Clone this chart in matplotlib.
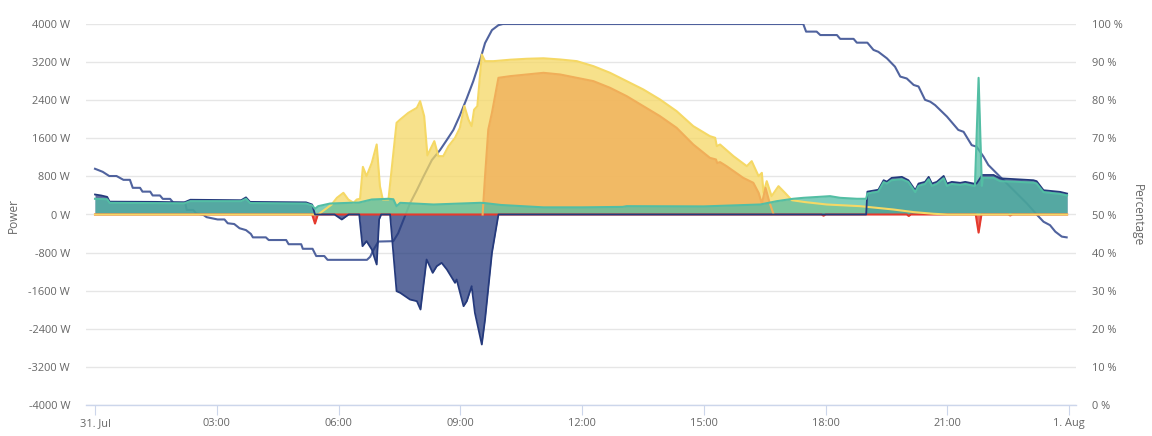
import matplotlib.pyplot as plt

plt.rcParams['font.family'] = ['Open Sans', 'DejaVu Sans']

# time in hours from 31. Jul 00:00
x_ticks = [0, 3, 6, 9, 12, 15, 18, 21, 24]
x_labels = ['31. Jul', '03:00', '06:00', '09:00', '12:00', '15:00', '18:00', '21:00', '1. Aug']
w_ticks = [-4000, -3200, -2400, -1600, -800, 0, 800, 1600, 2400, 3200, 4000]
pct_ticks = [0, 10, 20, 30, 40, 50, 60, 70, 80, 90, 100]

# PV production (W)
pv_h = [0, 5.5, 5.83, 5.96, 6.12, 6.24, 6.37, 6.45, 6.53, 6.60, 6.69, 6.82, 6.94, 7.02, 7.09,
        7.23, 7.43, 7.52, 7.72, 7.93, 8.01, 8.11, 8.19, 8.26, 8.36, 8.46, 8.58, 8.71, 8.87,
        8.99, 9.10, 9.20, 9.28, 9.34, 9.42, 9.53, 9.61, 9.82, 10.23, 10.64, 11.05, 11.46,
        11.87, 12.28, 12.69, 13.10, 13.51, 13.92, 14.33, 14.74, 15.15, 15.28, 15.32, 15.40,
        15.73, 16.06, 16.18, 16.35, 16.43, 16.47, 16.55, 16.67, 16.84, 17.00, 17.17, 17.5,
        18.03, 18.85, 19.26, 19.67, 20.17, 20.66, 21.0, 23.95]
pv_w = [0, 0, 210, 350, 455, 315, 245, 315, 330, 1000, 805, 1085, 1470, 595, 315,
        315, 1925, 1995, 2135, 2240, 2380, 2065, 1240, 1365, 1540, 1225, 1225, 1435, 1610,
        1820, 2280, 1995, 1855, 2200, 2275, 3360, 3220, 3220, 3250, 3270, 3280, 3255,
        3220, 3115, 2975, 2800, 2625, 2415, 2170, 1855, 1645, 1610, 1435, 1470,
        1225, 1015, 1120, 805, 875, 455, 700, 385, 595, 455, 300, 260,
        210, 175, 140, 105, 50, 15, 0, 0]

# grid feed-in (W)
feed_h = [9.55, 9.61, 9.69, 9.78, 9.94, 10.23, 10.64, 11.05, 11.46, 11.87, 12.28, 12.69,
          13.10, 13.51, 13.92, 14.33, 14.74, 15.15, 15.30, 15.33, 15.40, 15.56, 15.97, 16.22,
          16.35, 16.43, 16.52, 16.62, 16.72]
feed_w = [0, 805, 1785, 2135, 2870, 2905, 2940, 2975, 2940, 2870, 2800, 2660,
          2485, 2275, 2065, 1820, 1470, 1190, 1155, 1080, 1100, 1015, 770, 665,
          455, 230, 560, 250, 0]

# battery power (W), positive = discharge
bat_h = [0, 0.15, 0.3, 0.36, 1.5, 2.2, 2.35, 3.6, 3.72, 3.82, 5.2, 5.35, 5.42, 5.9, 6.08,
         6.25, 6.51, 6.59, 6.69, 6.82, 6.94, 7.0, 7.05, 7.27, 7.43, 7.52, 7.76, 7.93, 8.02,
         8.17, 8.32, 8.42, 8.54, 8.67, 8.87, 8.91, 9.08, 9.16, 9.28, 9.36, 9.53, 9.61, 9.78,
         9.94, 19.0, 19.03, 19.30, 19.43, 19.51, 19.63, 19.88, 20.04, 20.21, 20.29, 20.45,
         20.54, 20.62, 20.74, 20.91, 20.99, 21.11, 21.32, 21.44, 21.65, 21.72, 21.86, 22.14,
         22.30, 23.12, 23.20, 23.37, 23.78, 23.95]
bat_w = [420, 400, 370, 270, 265, 255, 310, 300, 360, 265, 255, 210, 0, 0, -105,
         0, 0, -665, -560, -735, -1050, -105, 0, 0, -1610, -1645, -1785, -1820, -1995,
         -945, -1225, -1085, -1015, -1155, -1435, -1365, -1925, -1820, -1505, -2065, -2730, -2205, -805,
         0, 0, 480, 520, 720, 690, 770, 790, 720, 510, 650, 685,
         790, 650, 685, 810, 650, 685, 665, 685, 650, 650, 830, 830,
         760, 720, 700, 510, 475, 440]

# house consumption (W)
house_h = [0, 0.3, 0.36, 2.2, 2.35, 3.6, 3.72, 3.82, 5.2, 5.35, 5.42, 5.5, 5.79, 6.28, 6.5,
           6.82, 7.23, 7.35, 7.43, 7.52, 8.34, 9.49, 9.6, 10.0, 11.05, 12.0, 13.0, 13.10,
           15.0, 16.39, 16.8, 17.2, 17.45, 18.11, 18.36, 18.77, 19.0, 19.03, 19.30, 19.43,
           19.51, 19.63, 19.88, 20.04, 20.21, 20.29, 20.45, 20.54, 20.62, 20.74, 20.91, 20.99,
           21.11, 21.32, 21.44, 21.65, 21.68, 21.77, 21.85, 21.88, 22.14, 22.30, 23.12, 23.20,
           23.37, 23.78, 23.95]
house_w = [330, 320, 245, 235, 280, 280, 330, 240, 230, 190, 120, 175, 230, 245, 250,
           315, 330, 320, 175, 245, 210, 245, 240, 200, 150, 150, 160, 175,
           170, 210, 280, 330, 350, 385, 350, 330, 330, 440, 480, 680,
           650, 720, 740, 680, 470, 600, 640, 740, 600, 640, 760, 600,
           640, 620, 640, 600, 600, 2870, 600, 770, 770, 700, 670, 650,
           470, 430, 400]

# grid import (W), negative
grid_h = [0, 5.35, 5.42, 5.49, 17.9, 17.95, 18.0, 20.0, 20.05, 20.1, 21.70, 21.77, 21.84,
          22.5, 22.55, 22.6, 23.95]
grid_w = [0, 0, -190, 0, 0, -25, 0, 0, -30, 0, 0, -380, 0, 0, -20, 0, 0]

# battery state of charge (%)
soc_h = [0, 0.19, 0.35, 0.53, 0.70, 0.86, 0.93, 1.11, 1.17, 1.36, 1.42, 1.60, 1.67, 1.85,
         1.93, 2.22, 2.26, 2.42, 2.49, 2.67, 2.75, 3.02, 3.19, 3.27, 3.43, 3.56, 3.72, 3.84,
         3.89, 4.21, 4.28, 4.71, 4.77, 5.08, 5.12, 5.36, 5.45, 5.65, 5.73, 6.70, 6.78, 6.86,
         6.98, 7.35, 7.47, 7.60, 7.76, 7.93, 8.09, 8.30, 8.50, 8.67, 8.83, 8.99, 9.16, 9.32,
         9.49, 9.61, 9.78, 9.94, 10.05, 17.45, 17.52, 17.78, 17.87, 18.28, 18.36, 18.69,
         18.77, 19.03, 19.18, 19.30, 19.51, 19.71, 19.84, 20.00, 20.17, 20.29, 20.45, 20.58,
         20.70, 20.99, 21.27, 21.40, 21.60, 21.72, 21.89, 22.01, 22.30, 22.63, 22.96, 23.21,
         23.37, 23.53, 23.66, 23.82, 23.94]
soc_pct = [62.0, 61.2, 60.1, 60.1, 59.1, 59.1, 57.0, 57.0, 56.0, 56.0, 55.0, 55.0, 54.1, 54.1,
           53.1, 53.1, 51.2, 51.2, 50.3, 49.9, 49.3, 48.7, 48.7, 47.7, 47.5, 46.4, 45.9, 44.9,
           44.0, 44.0, 43.3, 43.3, 42.2, 42.2, 41.0, 41.0, 39.1, 39.1, 38.1, 38.1, 38.9, 40.7,
           42.9, 43.0, 45.1, 48.6, 52.9, 56.4, 59.9, 64.3, 66.9, 69.6, 72.2, 76.0, 80.5, 85.0,
           90.6, 95.0, 98.4, 99.7, 100, 100, 98.0, 98.0, 97.1, 97.1, 96.1, 96.1,
           95.1, 95.1, 93.2, 92.7, 91.0, 88.8, 86.2, 85.7, 84.0, 83.6, 80.1, 79.6,
           78.7, 75.7, 72.2, 71.7, 68.2, 67.8, 65.2, 63.0, 59.9, 56.4, 52.9, 49.9,
           48.1, 47.2, 45.5, 44.2, 44.0]

W, H = 1152, 436
fig = plt.figure(figsize=(W / 100, H / 100), dpi=100)
ax = fig.add_axes([86 / W, 1 - 405 / H, (1076 - 86) / W, (405 - 24) / H])
axp = ax.twinx()
ax.set_zorder(axp.get_zorder() + 1)
ax.patch.set_visible(False)

label_c = '#666666'
grid_c = '#e6e6e6'
axis_c = '#ccd6eb'

# SOC line and gridlines sit underneath the areas
axp.plot(soc_h, soc_pct, color='#3d5294', lw=1.5, alpha=0.9)
axp.set_ylim(0, 100)
axp.set_yticks(pct_ticks)
axp.set_yticklabels([f'{p} %' for p in pct_ticks])
axp.grid(axis='y', color=grid_c, lw=1)
axp.set_axisbelow(True)

areas = [
    (grid_h, grid_w, '#e53a2e', 1.5),
    (pv_h, pv_w, '#f5d865', 1.5),
    (feed_h, feed_w, '#f0ae59', 1.5),
    (bat_h, bat_w, '#253a7c', 1.3),
    (house_h, house_w, '#53bea4', 1.5),
]
for hh, ww, c, lw in areas:
    ax.fill_between(hh, ww, 0, color=c, alpha=0.75, lw=0)
    ax.plot(hh, ww, color=c, lw=lw)

ax.set_xlim(-0.222, 24.17)
ax.set_ylim(-4000, 4000)
ax.set_yticks(w_ticks)
ax.set_yticklabels([f'{v} W' for v in w_ticks])
ax.set_xticks(x_ticks)
ax.set_xticklabels(x_labels)

for a in (ax, axp):
    for s in a.spines.values():
        s.set_visible(False)
ax.spines['bottom'].set_visible(True)
ax.spines['bottom'].set_color(axis_c)
ax.spines['bottom'].set_linewidth(1)

ax.tick_params(axis='y', length=0, pad=11.5, labelsize=7.9, labelcolor=label_c)
axp.tick_params(axis='y', length=0, pad=11.5, labelsize=7.9, labelcolor=label_c)
ax.tick_params(axis='x', length=7.2, width=0.8, color=axis_c, pad=2,
               labelsize=7.9, labelcolor=label_c)

fig.text(13 / W, 1 - 215 / H, 'Power', rotation=90, ha='center', va='center',
         fontsize=8.6, color=label_c)
fig.text(1137 / W, 1 - 215 / H, 'Percentage', rotation=270, ha='center', va='center',
         fontsize=8.6, color=label_c)

fig.savefig('out.png', dpi=100)
